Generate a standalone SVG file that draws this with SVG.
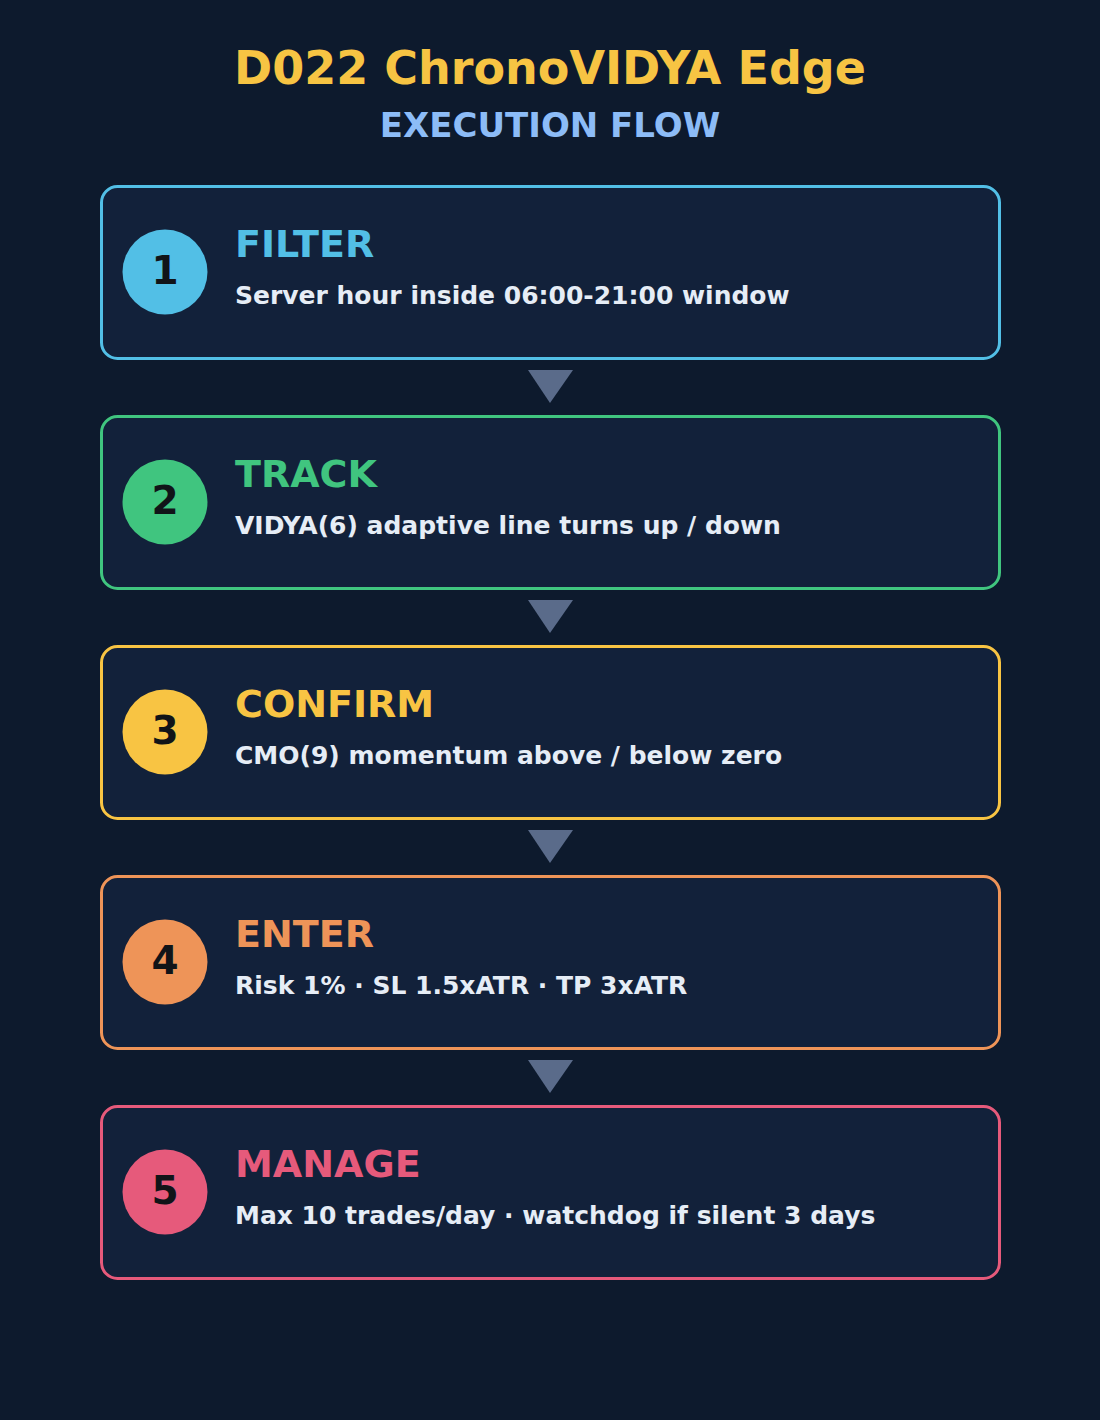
<svg xmlns="http://www.w3.org/2000/svg" width="1100" height="1420" viewBox="0 0 1100 1420">
<style>
text{font-family:"DejaVu Sans","Liberation Sans",sans-serif;font-weight:bold}
.box{fill:#12213a;stroke-width:3}
.num{font-size:39px;fill:#111418;text-anchor:middle}
.ttl{font-size:38px}
.sub{font-size:25px;fill:#e6edf6}
.arr{fill:#5a6b8a}
</style>
<rect width="1100" height="1420" fill="#0d1a2d"/>
<text x="550" y="84" text-anchor="middle" font-size="46" fill="#f7c443">D022 ChronoVIDYA Edge</text>
<text x="550" y="137" text-anchor="middle" font-size="34" fill="#8cbcf7">EXECUTION FLOW</text>
<g id="connectors">
<polygon class="arr" points="528,370 573,370 550,403"/>
<polygon class="arr" points="528,600 573,600 550,633"/>
<polygon class="arr" points="528,830 573,830 550,863"/>
<polygon class="arr" points="528,1060 573,1060 550,1093"/>
</g>
<g id="node1">
<rect class="box" x="101.5" y="186.5" width="898" height="172" rx="16" stroke="#52bfe6"/>
<circle cx="165" cy="272" r="42.5" fill="#52bfe6"/>
<text class="num" x="165" y="284">1</text>
<text class="ttl" x="235" y="257" fill="#52bfe6">FILTER</text>
<text class="sub" x="235" y="304">Server hour inside 06:00-21:00 window</text>
</g>
<g id="node2">
<rect class="box" x="101.5" y="416.5" width="898" height="172" rx="16" stroke="#40c57f"/>
<circle cx="165" cy="502" r="42.5" fill="#40c57f"/>
<text class="num" x="165" y="514">2</text>
<text class="ttl" x="235" y="487" fill="#40c57f">TRACK</text>
<text class="sub" x="235" y="534">VIDYA(6) adaptive line turns up / down</text>
</g>
<g id="node3">
<rect class="box" x="101.5" y="646.5" width="898" height="172" rx="16" stroke="#f8c443"/>
<circle cx="165" cy="732" r="42.5" fill="#f8c443"/>
<text class="num" x="165" y="744">3</text>
<text class="ttl" x="235" y="717" fill="#f8c443">CONFIRM</text>
<text class="sub" x="235" y="764">CMO(9) momentum above / below zero</text>
</g>
<g id="node4">
<rect class="box" x="101.5" y="876.5" width="898" height="172" rx="16" stroke="#ee9458"/>
<circle cx="165" cy="962" r="42.5" fill="#ee9458"/>
<text class="num" x="165" y="974">4</text>
<text class="ttl" x="235" y="947" fill="#ee9458">ENTER</text>
<text class="sub" x="235" y="994">Risk 1% · SL 1.5xATR · TP 3xATR</text>
</g>
<g id="node5">
<rect class="box" x="101.5" y="1106.5" width="898" height="172" rx="16" stroke="#e65a7b"/>
<circle cx="165" cy="1192" r="42.5" fill="#e65a7b"/>
<text class="num" x="165" y="1204">5</text>
<text class="ttl" x="235" y="1177" fill="#e65a7b">MANAGE</text>
<text class="sub" x="235" y="1224">Max 10 trades/day · watchdog if silent 3 days</text>
</g>
</svg>
